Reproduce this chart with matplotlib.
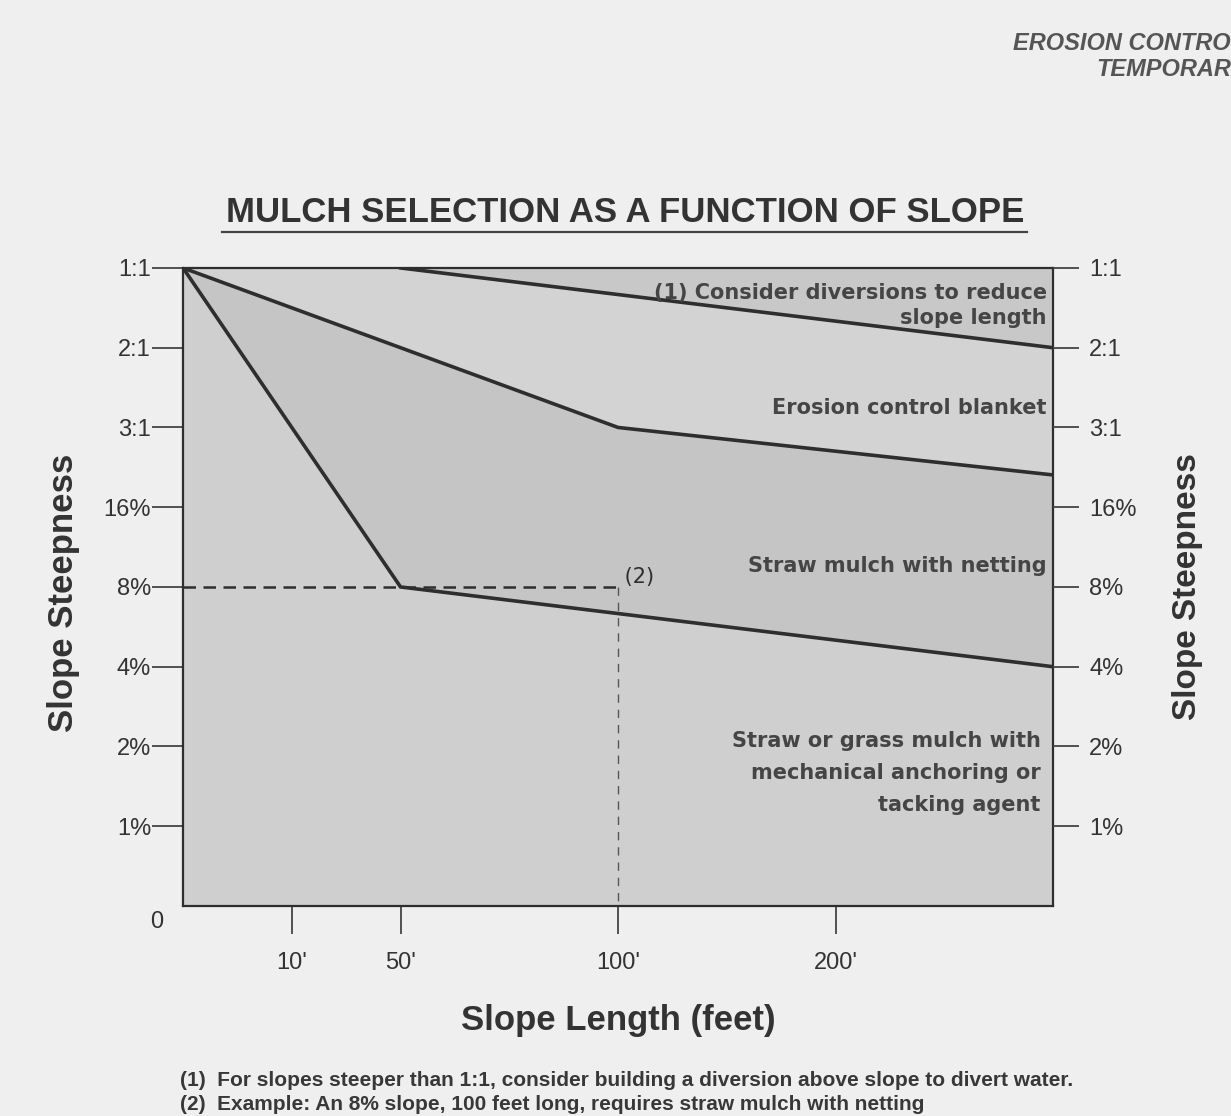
import numpy as np
import matplotlib
matplotlib.use("Agg")
import matplotlib.pyplot as plt
from matplotlib.lines import Line2D

# slope length axis (feet) and steepness axis (percent) tick values
length_ticks = [10, 50, 100, 200]
length_labels = ["10'", "50'", "100'", "200'"]
steep_ticks = [1, 2, 4, 8, 16, 33.3, 50, 100]
steep_labels = ["1%", "2%", "4%", "8%", "16%", "3:1", "2:1", "1:1"]

# breakpoints of the axis scales (value -> even step position)
length_knots = [0, 10, 50, 100, 200, 300]
length_steps = [0, 1, 2, 4, 6, 8]
steep_knots = [0, 1, 2, 4, 8, 16, 33.3, 50, 100]
steep_steps = [0, 1, 2, 3, 4, 5, 6, 7, 8]

# boundary lines (length in feet, steepness in percent)
diversion_x = [50, 300]
diversion_y = [100, 50]
blanket_x = [0, 100, 300]
blanket_y = [100, 33.3, 23]
netting_x = [0, 50, 300]
netting_y = [100, 8, 4]

# example (2): 8% slope, 100 ft long
example_x = 100
example_y = 8

ink = "#2e2e2e"
paper = "#efefef"


def interp_ext(v, xp, fp):
    v = np.asarray(v, dtype=float)
    out = np.interp(v, xp, fp)
    lo = v < xp[0]
    hi = v > xp[-1]
    out[lo] = fp[0] + (v[lo] - xp[0]) * (fp[1] - fp[0]) / (xp[1] - xp[0])
    out[hi] = fp[-1] + (v[hi] - xp[-1]) * (fp[-1] - fp[-2]) / (xp[-1] - xp[-2])
    return out


def len_fwd(v):
    return interp_ext(v, length_knots, length_steps)


def len_inv(v):
    return interp_ext(v, length_steps, length_knots)


def st_fwd(v):
    return interp_ext(v, steep_knots, steep_steps)


def st_inv(v):
    return interp_ext(v, steep_steps, steep_knots)


plt.rcParams['font.family'] = ['Liberation Sans', 'DejaVu Sans']

fig = plt.figure(figsize=(12.31, 11.16), dpi=100, facecolor=paper)
ax = fig.add_axes([0.1487, 0.1882, 0.7067, 0.5717])
ax.set_xscale('function', functions=(len_fwd, len_inv))
ax.set_yscale('function', functions=(st_fwd, st_inv))
xmin, xmax = length_knots[0], length_knots[-1]
ymin, ymax = steep_knots[0], steep_knots[-1]
ax.set_xlim(xmin, xmax)
ax.set_ylim(ymin, ymax)
ax.set_facecolor("#cfcfcf")

# shaded zones
ax.fill(diversion_x + [xmax], diversion_y + [ymax], color="#c8c8c8", lw=0)
ax.fill(blanket_x + diversion_x[::-1], blanket_y + diversion_y[::-1],
        color="#d3d3d3", lw=0)
ax.fill(blanket_x + netting_x[::-1], blanket_y + netting_y[::-1],
        color="#c5c5c5", lw=0)

# example dashed guide
ax.plot([xmin, example_x], [example_y, example_y], color=ink, lw=1.8,
        dashes=(5, 3), solid_capstyle='butt')
ax.plot([example_x, example_x], [example_y, ymin], color="#555555", lw=1.0,
        dashes=(6, 5), clip_on=False)
ax.text(example_x, example_y, " (2)", fontsize=15, color=ink,
        ha='left', va='bottom', family='DejaVu Sans')

for xs, ys in [(diversion_x, diversion_y), (blanket_x, blanket_y),
               (netting_x, netting_y)]:
    ax.plot(xs, ys, color=ink, lw=2.6, solid_joinstyle='miter')

# zone labels
lab = dict(fontsize=15, color="#454545", ha='right', va='center',
           family='DejaVu Sans', fontweight='bold')
ax.text(0.993, 0.96, "(1) Consider diversions to reduce", transform=ax.transAxes, **lab)
ax.text(0.993, 0.922, "slope length", transform=ax.transAxes, **lab)
ax.text(0.993, 0.781, "Erosion control blanket", transform=ax.transAxes, **lab)
ax.text(0.993, 0.533, "Straw mulch with netting", transform=ax.transAxes, **lab)
ax.text(0.986, 0.258, "Straw or grass mulch with", transform=ax.transAxes, **lab)
ax.text(0.986, 0.208, "mechanical anchoring or", transform=ax.transAxes, **lab)
ax.text(0.986, 0.158, "tacking agent", transform=ax.transAxes, **lab)

for s in ax.spines.values():
    s.set_color(ink)
    s.set_linewidth(1.6)

ax.set_xticks(length_ticks)
ax.set_xticklabels(length_labels)
ax.xaxis.set_minor_locator(plt.NullLocator())
ax.tick_params(axis='x', direction='out', length=20, width=1.3, pad=13,
               color="#444444", labelsize=17, labelcolor="#333333")
ax.set_yticks(steep_ticks)
ax.set_yticklabels(steep_labels)
ax.yaxis.set_minor_locator(plt.NullLocator())
ax.tick_params(axis='y', direction='out', length=22, width=1.3, pad=1,
               color="#444444", labelsize=17, labelcolor="#333333")

ax2 = ax.twinx()
ax2.set_yscale('function', functions=(st_fwd, st_inv))
ax2.set_ylim(ymin, ymax)
ax2.set_yticks(steep_ticks)
ax2.set_yticklabels(steep_labels)
ax2.yaxis.set_minor_locator(plt.NullLocator())
ax2.tick_params(axis='y', direction='out', length=19, width=1.3, pad=7,
                color="#444444", labelsize=17, labelcolor="#333333")
for s in ax2.spines.values():
    s.set_visible(False)

ax.text(-0.03, -0.025, "0", transform=ax.transAxes, fontsize=17,
        color="#333333", ha='center', va='center')

ax.set_ylabel("Slope Steepness", fontsize=25, fontweight='bold', color="#333333")
ax.yaxis.set_label_coords(-0.118, 0.49)
ax2.set_ylabel("Slope Steepness", fontsize=24, fontweight='bold', color="#333333")
ax2.yaxis.set_label_coords(1.137, 0.5)
ax.set_xlabel("Slope Length (feet)", fontsize=25, fontweight='bold', color="#333333")
ax.xaxis.set_label_coords(0.5, -0.153)

# title with underline
fig.text(0.508, 1 - 212 / 1116, "MULCH SELECTION AS A FUNCTION OF SLOPE",
         fontsize=25, fontweight='bold', color="#333333", ha='center', va='center')
fig.add_artist(Line2D([222 / 1231, 1027 / 1231], [1 - 232 / 1116, 1 - 232 / 1116],
                      color="#444444", lw=1.6, transform=fig.transFigure))

# page header, cut off by the page edge
fig.text(1.0, 1 - 43 / 1116, "EROSION CONTRO", fontsize=17, fontweight='bold',
         style='italic', color="#555555", ha='right', va='center')
fig.text(1.0, 1 - 70 / 1116, "TEMPORAR", fontsize=17, fontweight='bold',
         style='italic', color="#555555", ha='right', va='center')

# footnotes
fig.text(180 / 1231, 1 - 1080 / 1116,
         "(1)  For slopes steeper than 1:1, consider building a diversion above slope to divert water.",
         fontsize=15, fontweight='bold', color="#383838", ha='left', va='center')
fig.text(180 / 1231, 1 - 1105 / 1116,
         "(2)  Example: An 8% slope, 100 feet long, requires straw mulch with netting",
         fontsize=15, fontweight='bold', color="#383838", ha='left', va='center')

fig.savefig("out.png", dpi=100, facecolor=paper)
